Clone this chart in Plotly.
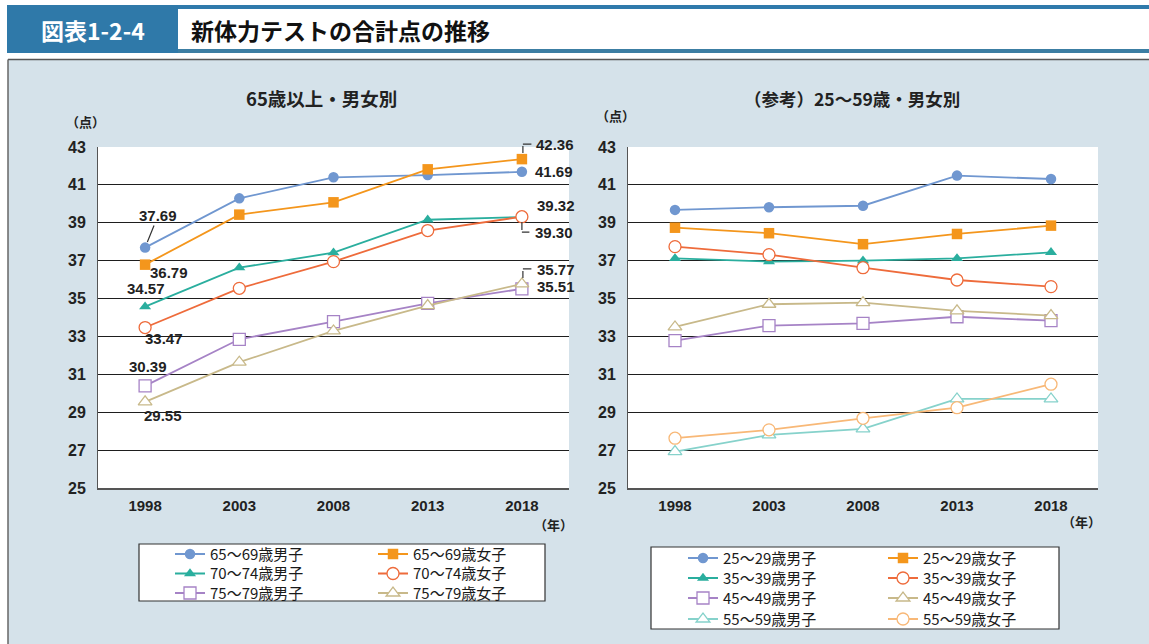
import plotly.graph_objects as go

W, H = 1149, 644

years = ["1998", "2003", "2008", "2013", "2018"]
y_ticks = [25, 27, 29, 31, 33, 35, 37, 39, 41, 43]

# 65歳以上・男女別
m65_69 = [37.69, 40.29, 41.40, 41.52, 41.69]
f65_69 = [36.79, 39.43, 40.08, 41.82, 42.36]
m70_74 = [34.57, 36.63, 37.42, 39.16, 39.30]
f70_74 = [33.47, 35.54, 36.95, 38.59, 39.32]
m75_79 = [30.39, 32.85, 33.78, 34.75, 35.51]
f75_79 = [29.55, 31.64, 33.29, 34.63, 35.77]

# （参考）25～59歳・男女別
m25_29 = [39.68, 39.82, 39.90, 41.49, 41.31]
f25_29 = [38.74, 38.45, 37.87, 38.41, 38.85]
m35_39 = [37.12, 36.95, 37.00, 37.12, 37.44]
f35_39 = [37.74, 37.32, 36.63, 35.98, 35.63]
m45_49 = [32.78, 33.57, 33.69, 34.04, 33.83]
f45_49 = [33.50, 34.70, 34.78, 34.35, 34.10]
m55_59 = [26.92, 27.80, 28.12, 29.70, 29.70]
f55_59 = [27.63, 28.07, 28.68, 29.24, 30.48]

JP = "Noto Sans CJK JP, sans-serif"
NUM = "Liberation Sans, Arial, sans-serif"
PANEL = "#d5e2ea"

def px(x):
    return x / W

def py(y):
    return 1 - y / H

# (name, values, color, symbol, open, axis, legend)
series = [
    ("65～69歳男子", m65_69, "#7097d0", "circle", False, 1, "legend"),
    ("65～69歳女子", f65_69, "#f4961c", "square", False, 1, "legend"),
    ("70～74歳男子", m70_74, "#2aae9e", "triangle-up", False, 1, "legend2"),
    ("70～74歳女子", f70_74, "#ee6b3b", "circle", True, 1, "legend2"),
    ("75～79歳男子", m75_79, "#a683c6", "square", True, 1, "legend3"),
    ("75～79歳女子", f75_79, "#c8b98a", "triangle-up", True, 1, "legend3"),
    ("25～29歳男子", m25_29, "#7097d0", "circle", False, 2, "legend4"),
    ("25～29歳女子", f25_29, "#f4961c", "square", False, 2, "legend4"),
    ("35～39歳男子", m35_39, "#2aae9e", "triangle-up", False, 2, "legend5"),
    ("35～39歳女子", f35_39, "#ee6b3b", "circle", True, 2, "legend5"),
    ("45～49歳男子", m45_49, "#a683c6", "square", True, 2, "legend6"),
    ("45～49歳女子", f45_49, "#c8b98a", "triangle-up", True, 2, "legend6"),
    ("55～59歳男子", m55_59, "#86d2cb", "triangle-up", True, 2, "legend7"),
    ("55～59歳女子", f55_59, "#f8b877", "circle", True, 2, "legend7"),
]

fig = go.Figure()
for name, vals, col, sym, hollow, ax, leg in series:
    if hollow:
        marker = dict(symbol=sym, size=12, color="white",
                      line=dict(color=col, width=1.3))
    else:
        marker = dict(symbol=sym, size=10.5, color=col, line=dict(width=0))
    fig.add_trace(go.Scatter(
        x=years, y=vals, name=name, mode="lines+markers",
        line=dict(color=col, width=1.8), marker=marker,
        xaxis="x" if ax == 1 else "x2", yaxis="y" if ax == 1 else "y2",
        legend=leg, showlegend=True, hoverinfo="skip",
    ))

ydom = [py(488), py(147)]
axis_common = dict(
    type="category", range=[-0.5, 4.5], showgrid=False, showline=True,
    linecolor="#555", linewidth=1.5, ticks="", ticklabelstandoff=3,
    tickfont=dict(family=NUM, size=15, color="#222", weight="bold"),
    fixedrange=True, automargin=False,
)
yaxis_common = dict(
    range=[25, 43], tickvals=y_ticks, showgrid=True, gridcolor="#1e1e1e",
    gridwidth=1, showline=True, linecolor="#555", linewidth=1, ticks="",
    ticklabelstandoff=8, zeroline=False,
    tickfont=dict(family=NUM, size=16, color="#222", weight="bold"),
    fixedrange=True, automargin=False,
)

fig.update_layout(
    width=W, height=H, margin=dict(l=0, r=0, t=0, b=0, pad=0, autoexpand=False),
    paper_bgcolor=PANEL, plot_bgcolor="white",
    xaxis=dict(domain=[px(98), px(569)], anchor="y", **axis_common),
    yaxis=dict(domain=ydom, anchor="x", **yaxis_common),
    xaxis2=dict(domain=[px(628), px(1098)], anchor="y2", **axis_common),
    yaxis2=dict(domain=ydom, anchor="x2", **yaxis_common),
)

# legends: one per row
leg_font = dict(family=JP, size=15, color="#1a1a1a")
def leg(x, ycenter, ew):
    h = max(1.3 * leg_font["size"], 16) + 3
    top = ycenter - (5 + h / 2)
    return dict(orientation="h", x=px(x), y=py(top), xanchor="left", yanchor="top",
                bgcolor="rgba(0,0,0,0)", borderwidth=0, font=leg_font,
                entrywidth=ew, entrywidthmode="pixels", tracegroupgap=0,
                itemclick=False, itemdoubleclick=False)

fig.update_layout(
    legend=leg(170, 554, 158), legend2=leg(170, 573.5, 158), legend3=leg(170, 593, 158),
    legend4=leg(683, 558, 155), legend5=leg(683, 578, 155), legend6=leg(683, 598, 155),
    legend7=leg(683, 619, 155),
)

shapes = []
def rect(x0, y0, x1, y1, fill, line=None, lw=0, layer="below"):
    shapes.append(dict(type="rect", xref="paper", yref="paper",
                       x0=px(x0), x1=px(x1), y0=py(y1), y1=py(y0),
                       fillcolor=fill, line=dict(color=line or fill, width=lw), layer=layer))

# header
rect(0, 0, W, 59, "white")
rect(0, 59, 8, H, "white")
rect(7, 5, W, 9, "#2f7aab")
rect(7, 49, W, 53, "#3c7ea3")
rect(7, 5, 178, 53, "#2f79a9")
shapes.append(dict(type="line", xref="paper", yref="paper", x0=px(8), x1=1, y0=py(59.5), y1=py(59.5),
                   line=dict(color="#555", width=1.5), layer="below"))
shapes.append(dict(type="line", xref="paper", yref="paper", x0=px(8), x1=px(8), y0=0, y1=py(59.5),
                   line=dict(color="#666", width=1.5), layer="below"))
# legend boxes
rect(139, 544, 545, 601, "white", "#333", 1.2)
rect(651, 547, 1059, 629, "white", "#333", 1.2)
fig.update_layout(shapes=shapes)

ann = []
def text(x, y, s, size, family=JP, color="#222", weight="normal", xanchor="center"):
    ann.append(dict(xref="paper", yref="paper", x=px(x), y=py(y), text=s, showarrow=False,
                    xanchor=xanchor, yanchor="middle",
                    font=dict(family=family, size=size, color=color, weight=weight)))

text(93, 30, "図表1-2-4", 23, color="white", weight="bold")
text(189, 30, "新体力テストの合計点の推移", 23, color="#111", weight="bold", xanchor="left")
text(321, 98, "65歳以上・男女別", 18.5, weight="bold")
text(852, 99, "（参考）25～59歳・男女別", 17.5, weight="bold")
text(85, 121, "（点）", 13, weight="bold")
text(615, 115, "（点）", 13, weight="bold")
text(553, 524, "（年）", 13, weight="bold")
text(1081, 521, "（年）", 13, weight="bold")

lab_font = dict(family=NUM, size=15, color="#222", weight="bold")
def dlab(i, vals, dx, dy, arrow=None):
    a = dict(xref="x", yref="y", x=i, y=vals[i], text=f"{vals[i]:.2f}",
             font=lab_font)
    if arrow:
        a.update(showarrow=True, ax=dx, ay=-dy, axref="pixel", ayref="pixel",
                 arrowhead=0, arrowwidth=1.2, arrowcolor="#333", standoff=arrow)
    else:
        a.update(showarrow=False, xshift=dx, yshift=dy)
    ann.append(a)

def seg(i, vals, xs, ys, dx, dy):
    ann.append(dict(xref="x", yref="y", x=i, y=vals[i], text=" ", showarrow=True,
                    xshift=xs, yshift=ys, ax=dx, ay=-dy, axref="pixel", ayref="pixel",
                    arrowhead=0, arrowwidth=1.2, arrowcolor="#333", standoff=0,
                    font=dict(size=1)))

dlab(0, m65_69, 13, 32, arrow=6)
dlab(0, f65_69, 24, -8)
dlab(0, m70_74, 1, 18)
dlab(0, f70_74, 19, -11)
dlab(0, m75_79, 3, 19)
dlab(0, f75_79, 18, -14)
dlab(4, f65_69, 33, 15)
seg(4, f65_69, 1, 6, 0, 9)
seg(4, f65_69, 1, 15, 10, 0)
dlab(4, m65_69, 32, 0)
dlab(4, f70_74, 34, 11)
dlab(4, m70_74, 32, -15)
seg(4, m70_74, 0, -5, 0, -10)
seg(4, m70_74, 0, -15, 9, 0)
dlab(4, f75_79, 34, 14)
seg(4, f75_79, 1, 6, 0, 9)
seg(4, f75_79, 1, 15, 10, 0)
dlab(4, m75_79, 34, 2)

for a in ann:
    fig.add_annotation(a)

fig.write_html(
    "out.html",
    config={"displayModeBar": False, "staticPlot": False},
    post_script="document.body.style.margin='0px';document.body.style.padding='0px';",
)
